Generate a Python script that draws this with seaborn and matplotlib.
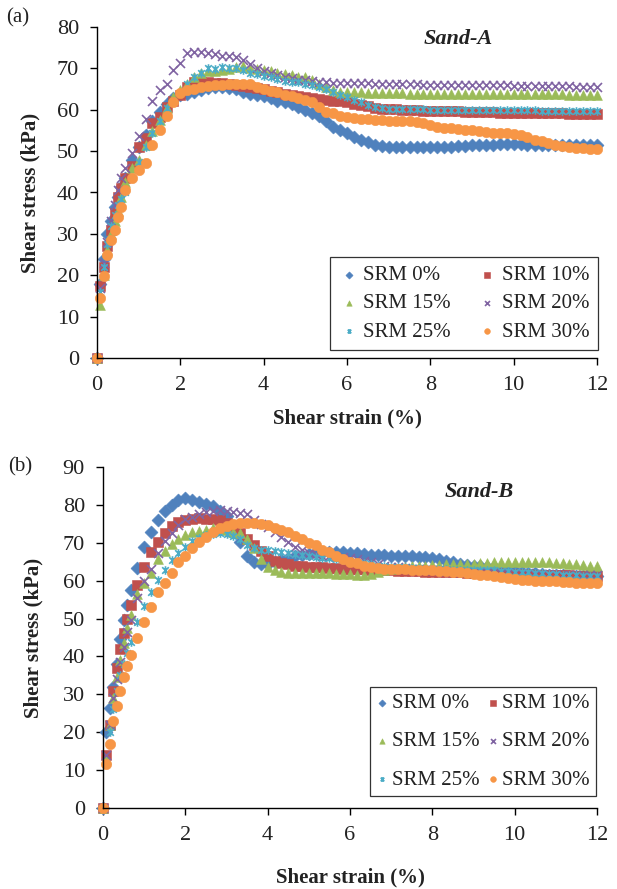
import matplotlib
matplotlib.use("Agg")
import matplotlib.pyplot as plt
from matplotlib.path import Path
import pandas as pd
import seaborn as sns

sns.set_theme(style="white")
plt.rcParams["font.family"] = ["Liberation Serif", "DejaVu Serif"]

# Shear strain (%) at which each reading was taken
strain = [0, 0.08, 0.17, 0.25, 0.33, 0.42, 0.5, 0.58, 0.67, 0.83,
          1.0, 1.17, 1.33, 1.5, 1.67, 1.83,
          2.0, 2.17, 2.33, 2.5, 2.67, 2.83,
          3.0, 3.17, 3.33, 3.5, 3.67, 3.83,
          4.0, 4.17, 4.33, 4.5, 4.67, 4.83,
          5.0, 5.17, 5.33, 5.5, 5.67, 5.83,
          6.0, 6.17, 6.33, 6.5, 6.67, 6.83,
          7.0, 7.17, 7.33, 7.5, 7.67, 7.83,
          8.0, 8.17, 8.33, 8.5, 8.67, 8.83,
          9.0, 9.17, 9.33, 9.5, 9.67, 9.83,
          10.0, 10.17, 10.33, 10.5, 10.67, 10.83,
          11.0, 11.17, 11.33, 11.5, 11.67, 11.83,
          12.0]

labels = ["SRM 0%", "SRM 10%", "SRM 15%", "SRM 20%", "SRM 25%", "SRM 30%"]

# ---- Sand-A shear stress (kPa) ----
sand_a_srm0 = [0, 18, 24, 30, 33, 36.5, 39, 41.3, 43.6, 47.9,
               51.0, 54.0, 57.3, 59.5, 61.5, 62.8,
               63.6, 63.9, 64.3, 64.8, 65.3, 65.6,
               65.6, 65.2, 65.0, 64.3, 63.9, 63.6,
               63.3, 62.8, 62.2, 61.8, 61.3, 60.7,
               59.9, 59.2, 58.5, 57.3, 55.9, 55.1,
               54.3, 53.5, 52.7, 52.1, 51.6, 51.2,
               51.0, 50.9, 50.9, 50.9, 51.0, 51.0,
               51.0, 51.0, 51.0, 51.1, 51.2, 51.3,
               51.4, 51.5, 51.6, 51.6, 51.7, 51.7,
               51.7, 51.7, 51.6, 51.6, 51.5, 51.5,
               51.4, 51.4, 51.4, 51.4, 51.4, 51.4,
               51.4]
sand_a_srm10 = [0, 17.5, 22, 27, 31, 35, 39, 41, 43.4, 46.3,
                50.9, 53.1, 56.7, 58.3, 60.6, 62.2,
                63.6, 65.5, 66.8, 66.7, 66.6, 66.5,
                66.4, 66.2, 66.0, 65.8, 65.5, 65.2,
                64.9, 64.6, 64.2, 63.9, 63.6, 63.4,
                63.1, 62.9, 62.6, 62.4, 62.2, 62.0,
                61.8, 61.5, 61.1, 60.8, 60.5, 60.3,
                60.2, 60.1, 60.0, 59.9, 59.9, 59.8,
                59.8, 59.7, 59.7, 59.6, 59.6, 59.5,
                59.5, 59.4, 59.4, 59.4, 59.3, 59.3,
                59.3, 59.2, 59.2, 59.2, 59.1, 59.1,
                59.1, 59.1, 59.0, 59.0, 59.0, 59.0,
                59.0]
sand_a_srm15 = [0, 12.8, 20, 26, 30, 33, 35.5, 39, 42.5, 46,
                47.9, 51.5, 54.9, 57.5, 60.5, 63.0,
                64.8, 66.2, 68.0, 69.0, 69.4, 69.4,
                69.5, 69.9, 70.4, 70.6, 70.2, 69.8,
                69.6, 69.4, 68.8, 68.6, 68.4, 68.0,
                67.8, 67.2, 66.2, 65.4, 64.8, 64.4,
                64.3, 64.2, 64.2, 64.1, 64.1, 64.0,
                64.0, 64.0, 64.0, 63.9, 63.9, 63.9,
                63.9, 63.9, 63.9, 63.9, 63.9, 63.8,
                63.8, 63.8, 63.8, 63.8, 63.8, 63.8,
                63.8, 63.8, 63.7, 63.7, 63.7, 63.7,
                63.7, 63.7, 63.6, 63.6, 63.6, 63.6,
                63.6]
sand_a_srm20 = [0, 17, 23, 28, 33, 37, 40.5, 43.5, 46, 49.5,
                53.7, 57.8, 62.0, 64.7, 66.2, 69.6,
                71.2, 73.7, 74.0, 74.0, 73.8, 73.4,
                73.1, 73.1, 72.8, 72.0, 71.0, 70.0,
                69.4, 68.8, 68.3, 67.9, 67.6, 67.3,
                67.1, 66.9, 66.7, 66.6, 66.5, 66.5,
                66.5, 66.4, 66.4, 66.4, 66.3, 66.3,
                66.3, 66.2, 66.2, 66.2, 66.2, 66.1,
                66.1, 66.1, 66.1, 66.0, 66.0, 66.0,
                66.0, 66.0, 65.9, 65.9, 65.9, 65.9,
                65.8, 65.8, 65.8, 65.8, 65.7, 65.7,
                65.7, 65.7, 65.7, 65.6, 65.6, 65.6,
                65.6]
sand_a_srm25 = [0, 16, 22, 27.5, 32, 34.5, 37, 38.5, 40.1, 43.5,
                47.3, 51.1, 54.5, 57.3, 60.4, 62.0,
                64.0, 66.2, 67.8, 69.0, 70.2, 69.8,
                70.4, 70.2, 70.2, 69.5, 69.0, 68.6,
                68.2, 67.8, 67.4, 67.0, 66.8, 66.6,
                66.3, 66.0, 65.4, 65.1, 64.3, 63.6,
                63.0, 62.3, 61.8, 61.2, 60.7, 60.4,
                60.3, 60.2, 60.2, 60.1, 60.1, 60.1,
                60.0, 60.0, 60.0, 60.0, 60.0, 60.0,
                60.0, 60.0, 59.9, 59.9, 59.9, 59.9,
                59.9, 59.9, 59.9, 59.9, 59.8, 59.8,
                59.8, 59.8, 59.8, 59.8, 59.8, 59.8,
                59.8]
sand_a_srm30 = [0, 14.5, 19.8, 25, 28.5, 31, 34, 36.6, 40.7, 43.4,
                45.5, 47.2, 51.6, 55.1, 58.6, 61.9,
                64.0, 64.7, 65.1, 65.5, 65.8, 66.0,
                66.0, 66.3, 66.3, 66.3, 66.2, 65.5,
                65.0, 64.6, 64.2, 63.6, 63.4, 62.8,
                62.3, 61.8, 60.7, 59.4, 59.3, 58.6,
                58.2, 57.9, 57.8, 57.7, 57.5, 57.5,
                57.4, 57.3, 57.2, 57.2, 57.1, 56.9,
                56.4, 55.9, 55.7, 55.6, 55.4, 55.2,
                55.0, 54.9, 54.6, 54.5, 54.4, 54.4,
                54.2, 54.0, 53.3, 52.8, 52.4, 52.0,
                51.5, 51.2, 51.0, 50.8, 50.7, 50.6,
                50.5]

# ---- Sand-B shear stress (kPa) ----
sand_b_srm0 = [0, 20, 26.5, 32, 38, 44.5, 49.5, 53.5, 57.5, 63.3,
               69.0, 72.8, 76.0, 78.3, 80.0, 81.2,
               81.7, 81.4, 80.8, 80.2, 79.6, 78.4,
               77.0, 73.8, 70.3, 66.5, 65.0, 64.4,
               64.5, 64.9, 65.5, 66.0, 66.4, 66.7,
               67.0, 67.2, 67.4, 67.5, 67.6, 67.6,
               67.4, 67.2, 67.0, 66.9, 66.8, 66.7,
               66.6, 66.5, 66.5, 66.4, 66.3, 66.2,
               66.0, 65.6, 65.2, 64.8, 64.4, 64.1,
               63.9, 63.8, 63.7, 63.5, 63.2, 62.9,
               62.6, 62.3, 62.1, 61.9, 61.8, 61.6,
               61.5, 61.4, 61.3, 61.3, 61.2, 61.2,
               61.2]
sand_b_srm10 = [0, 14, 22, 31, 37, 41.9, 46.3, 50, 53.6, 58.8,
                63.5, 67.5, 70.3, 72.7, 74.4, 75.4,
                76.1, 76.4, 76.5, 76.4, 76.2, 75.9,
                75.3, 74.4, 72.6, 71.0, 69.5, 67.8,
                66.4, 65.3, 64.7, 64.3, 64.0, 63.8,
                63.7, 63.6, 63.5, 63.4, 63.3, 63.2,
                63.1, 63.0, 63.0, 62.9, 62.8, 62.8,
                62.7, 62.6, 62.6, 62.5, 62.5, 62.4,
                62.4, 62.3, 62.3, 62.2, 62.2, 62.1,
                62.1, 62.0, 62.0, 61.9, 61.9, 61.8,
                61.8, 61.7, 61.7, 61.6, 61.6, 61.5,
                61.5, 61.4, 61.4, 61.3, 61.3, 61.3,
                61.2]
sand_b_srm15 = [0, 13, 22, 29, 34.5, 39, 43.5, 47.5, 51, 56.5,
                59.3, 62.0, 65.6, 67.9, 69.7, 70.9,
                72.0, 72.9, 73.2, 73.5, 73.8, 73.6,
                73.5, 72.9, 72.6, 70.9, 68.5, 65.6,
                63.7, 62.8, 62.4, 62.1, 62.0, 61.9,
                61.9, 61.9, 61.9, 61.9, 61.8, 61.8,
                61.7, 61.6, 61.6, 61.8, 62.3, 62.8,
                63.1, 63.4, 63.6, 63.8, 63.9, 64.0,
                64.1, 64.2, 64.3, 64.3, 64.4, 64.4,
                64.5, 64.6, 64.7, 64.8, 64.9, 65.0,
                65.0, 65.0, 65.0, 64.9, 64.9, 64.8,
                64.7, 64.6, 64.5, 64.3, 64.2, 64.0,
                63.9]
sand_b_srm20 = [0, 14, 22, 29, 34, 38.5, 42.5, 46.5, 49.5, 55.3,
                59.8, 63.2, 67.4, 70.5, 72.6, 74.7,
                76.2, 76.9, 77.5, 78.1, 78.4, 78.6,
                78.4, 78.2, 77.9, 77.5, 76.0, 75.0,
                74.2, 72.9, 71.4, 70.3, 69.0, 68.1,
                67.4, 67.1, 66.5, 66.4, 66.3, 66.2,
                66.0, 65.6, 65.2, 64.8, 64.4, 64.0,
                63.7, 63.5, 63.3, 63.1, 63.0, 62.9,
                62.8, 62.7, 62.6, 62.5, 62.4, 62.3,
                62.3, 62.2, 62.2, 62.1, 62.1, 62.0,
                62.0, 61.9, 61.9, 61.8, 61.8, 61.7,
                61.7, 61.6, 61.6, 61.5, 61.5, 61.5,
                61.4]
sand_b_srm25 = [0, 12, 20, 26, 31, 35, 38, 41, 43.9, 49,
                53.2, 57.1, 60.3, 62.9, 65.4, 67.4,
                68.8, 70.5, 71.2, 72.0, 72.4, 72.6,
                72.4, 71.8, 70.9, 69.4, 68.5, 68.2,
                68.0, 67.7, 67.5, 67.3, 67.0, 66.7,
                66.5, 66.3, 66.1, 66.0, 65.8, 65.7,
                65.3, 64.9, 64.6, 64.3, 64.0, 63.8,
                63.7, 63.6, 63.5, 63.4, 63.3, 63.2,
                63.2, 63.1, 63.0, 62.9, 62.9, 62.8,
                62.8, 62.8, 62.7, 62.7, 62.6, 62.5,
                62.4, 62.3, 62.2, 62.0, 61.9, 61.8,
                61.7, 61.6, 61.5, 61.4, 61.3, 61.3,
                61.2]
sand_b_srm30 = [0, 11.6, 17, 23, 27, 31, 34.5, 37.5, 40.5, 45,
                49.2, 53.1, 57.1, 59.4, 62.1, 65.0,
                66.5, 68.5, 70.3, 71.6, 72.9, 73.8,
                74.4, 74.9, 75.3, 75.3, 75.3, 74.9,
                74.6, 74.0, 73.3, 72.9, 71.8, 70.9,
                70.0, 69.4, 68.2, 67.6, 66.5, 65.6,
                65.0, 64.6, 63.9, 63.5, 63.3, 63.2,
                63.1, 63.0, 63.0, 62.9, 62.9, 62.8,
                62.7, 62.6, 62.5, 62.4, 62.2, 62.0,
                61.8, 61.6, 61.4, 61.1, 60.9, 60.6,
                60.4, 60.2, 60.1, 60.0, 59.9, 59.9,
                59.8, 59.7, 59.6, 59.5, 59.4, 59.4,
                59.3]

sand_a = [sand_a_srm0, sand_a_srm10, sand_a_srm15, sand_a_srm20, sand_a_srm25, sand_a_srm30]
sand_b = [sand_b_srm0, sand_b_srm10, sand_b_srm15, sand_b_srm20, sand_b_srm25, sand_b_srm30]

colors = ["#4F81BD", "#C0504D", "#9BBB59", "#8064A2", "#4BACC6", "#F79646"]

# asterisk marker: an "x" with a vertical bar through it
star = Path([(-1, -1), (1, 1), (-1, 1), (1, -1), (0, -1.3), (0, 1.3)],
            [Path.MOVETO, Path.LINETO] * 3)
markers = ["D", "s", "^", "x", star, "o"]
sizes = [44, 44, 50, 42, 38, 56]
line_art = [False, False, False, True, True, False]

fig = plt.figure(figsize=(6.17, 8.89), dpi=100)
ax_a = fig.add_axes([97 / 617, 1 - 358 / 889, 500 / 617, 331 / 889])
ax_b = fig.add_axes([103 / 617, 1 - 808 / 889, 494 / 617, 341 / 889])


def draw_panel(ax, series, ymax):
    handles = []
    for vals, lab, col, mk, sz, la in zip(series, labels, colors, markers, sizes, line_art):
        df = pd.DataFrame({"strain": strain, "stress": vals})
        sns.scatterplot(data=df, x="strain", y="stress", marker=mk, s=sz,
                        color=col, edgecolor=col, linewidth=1.2 if la else 0.4,
                        ax=ax, label=lab, clip_on=False, legend=False)
        handles.append(ax.collections[-1])
    ax.set_xlim(0, 12)
    ax.set_ylim(0, ymax)
    ax.set_xticks(range(0, 13, 2))
    ax.set_yticks(range(0, ymax + 1, 10))
    for side in ("top", "right"):
        ax.spines[side].set_visible(False)
    for side in ("left", "bottom"):
        ax.spines[side].set_color("black")
        ax.spines[side].set_linewidth(1.0)
    ax.tick_params(axis="both", direction="out", length=5, width=1.0,
                   color="black", labelsize=16, labelcolor="#222222", pad=8,
                   left=True, bottom=True)
    return handles


ha = draw_panel(ax_a, sand_a, 80)
hb = draw_panel(ax_b, sand_b, 90)

order = [0, 2, 4, 1, 3, 5]
leg_kw = dict(ncol=2, fontsize=15, frameon=True, fancybox=False, framealpha=1,
              edgecolor="#333333", markerscale=0.55, scatterpoints=1, borderaxespad=0)
leg_a = ax_a.legend([ha[i] for i in order], [labels[i] for i in order],
                    loc="lower right", bbox_to_anchor=(1.002, 0.024),
                    handlelength=1.0, handletextpad=0.2, columnspacing=1.25,
                    borderpad=0.4, labelspacing=0.42, **leg_kw)
leg_b = ax_b.legend([hb[i] for i in order], [labels[i] for i in order],
                    loc="lower right", bbox_to_anchor=(0.998, 0.035),
                    handlelength=0.6, handletextpad=0.15, columnspacing=0.35,
                    borderpad=0.3, labelspacing=0.9, **leg_kw)
for leg in (leg_a, leg_b):
    leg.get_frame().set_linewidth(0.9)
    for t in leg.get_texts():
        t.set_color("#222222")

for ax in (ax_a, ax_b):
    ax.set_xlabel("Shear strain (%)", fontsize=15, fontweight="bold", color="#222222")
    ax.set_ylabel("Shear stress (kPa)", fontsize=15, fontweight="bold", color="#222222")
ax_a.xaxis.labelpad = 10
ax_b.xaxis.labelpad = 16
ax_a.yaxis.labelpad = 12
ax_b.yaxis.labelpad = 14

ax_a.text(0.722, 0.965, "Sand-A", transform=ax_a.transAxes, ha="center", va="center",
          fontsize=16, fontweight="bold", fontstyle="italic", color="#222222")
ax_b.text(0.761, 0.927, "Sand-B", transform=ax_b.transAxes, ha="center", va="center",
          fontsize=16, fontweight="bold", fontstyle="italic", color="#222222")

fig.text(18 / 617, 1 - 18 / 889, "(a)", ha="center", va="center", fontsize=15, color="#222222")
fig.text(20 / 617, 1 - 467 / 889, "(b)", ha="center", va="center", fontsize=15, color="#222222")

fig.savefig("out.png", dpi=100)
